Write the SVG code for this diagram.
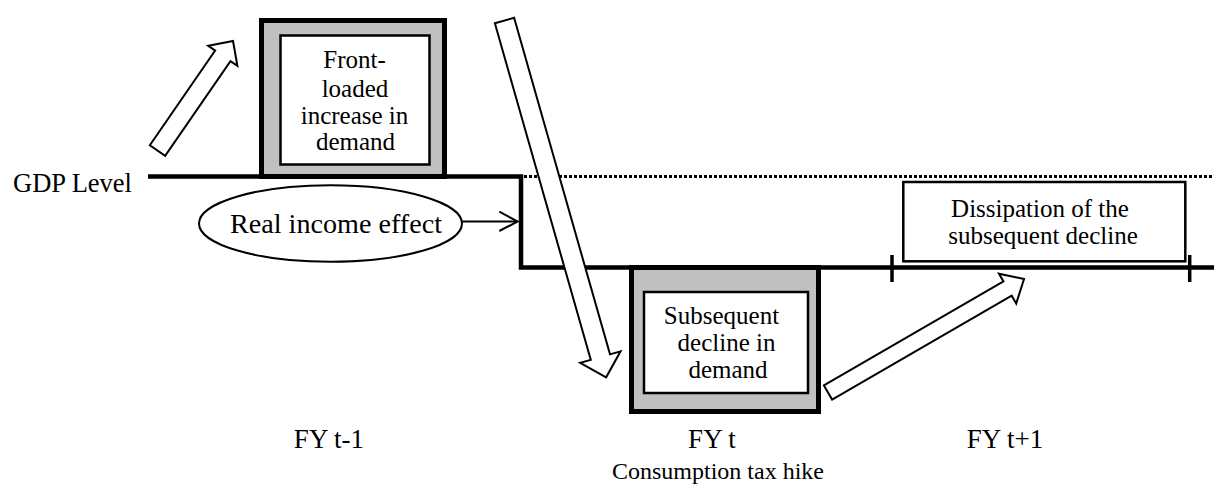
<svg xmlns="http://www.w3.org/2000/svg" width="1214" height="487" viewBox="0 0 1214 487">
<style>
text{font-family:'Liberation Serif','Times New Roman',serif;fill:#000}
.t25{font-size:25px;text-anchor:middle}
.fy{font-size:27px;text-anchor:middle}
.outer{fill:#c0c0c0;stroke:#000;stroke-width:5}
.inner{fill:#fff;stroke:#000;stroke-width:2.5}
.blk{fill:#fff;stroke:#000;stroke-width:2;stroke-linejoin:miter}
.axis{fill:none;stroke:#000;stroke-width:4.5}
</style>
<rect width="1214" height="487" fill="#fff"/>
<g id="gdp-line">
<polyline class="axis" points="148,176.5 521,176.5 521,267.5 1214,267.5"/>
<line x1="524" y1="176.5" x2="1214" y2="176.5" stroke="#000" stroke-width="3" stroke-dasharray="3 2"/>
<line x1="892" y1="255" x2="892" y2="282" stroke="#000" stroke-width="3.5"/>
<line x1="1189.7" y1="255" x2="1189.7" y2="282" stroke="#000" stroke-width="3.5"/>
<text x="13" y="192" font-size="26.5">GDP Level</text>
</g>
<g id="front-loaded">
<rect class="outer" x="261.5" y="20.5" width="183" height="156"/>
<rect class="inner" x="280.5" y="35.5" width="149" height="129"/>
<text class="t25" x="354.5" y="68">Front-</text>
<text class="t25" x="355" y="96.5">loaded</text>
<text class="t25" x="354.5" y="123.5">increase in</text>
<text class="t25" x="355.5" y="150">demand</text>
</g>
<g id="real-income">
<ellipse cx="330.5" cy="223.5" rx="131.5" ry="38.3" fill="#fff" stroke="#000" stroke-width="2"/>
<text x="230" y="233" font-size="26.5" textLength="212" lengthAdjust="spacingAndGlyphs">Real income effect</text>
</g>
<g id="subsequent-decline">
<rect class="outer" x="631.5" y="267.5" width="187" height="144"/>
<rect class="inner" x="644" y="292" width="164" height="101"/>
<text class="t25" x="721.5" y="324">Subsequent</text>
<text class="t25" x="726.5" y="351">decline in</text>
<text class="t25" x="728" y="378">demand</text>
</g>
<g id="dissipation">
<rect class="inner" x="903.3" y="182" width="282" height="79.3"/>
<text class="t25" x="1040" y="217" font-size="25.5">Dissipation of the</text>
<text class="t25" x="1043" y="244" font-size="25.5">subsequent decline</text>
</g>
<g id="labels">
<text class="fy" x="329" y="448">FY t-1</text>
<text class="fy" x="712" y="448">FY t</text>
<text class="fy" x="1005" y="448">FY t+1</text>
<text x="718" y="479" font-size="24" text-anchor="middle">Consumption tax hike</text>
</g>
<g id="connectors">
<polygon class="blk" points="0,-9.3 115,-9.3 115,-17.7 133,0 115,17.7 115,9.3 0,9.3" transform="translate(157.5,150.5) rotate(-55.4)"/>
<polygon class="blk" points="0,-10 350,-10 350,-21 371,0 350,21 350,10 0,10" transform="translate(504.5,20.5) rotate(74.1)"/>
<polygon class="blk" points="0,-8.2 207.5,-8.2 207.5,-17.2 226.5,0 207.5,17.2 207.5,8.2 0,8.2" transform="translate(828,392.5) rotate(-30.06)"/>
<line x1="462" y1="221.5" x2="517" y2="221.5" stroke="#000" stroke-width="2"/>
<polyline points="499.3,211.7 517.7,221.5 499.3,231" fill="none" stroke="#000" stroke-width="2"/>
</g>
</svg>
